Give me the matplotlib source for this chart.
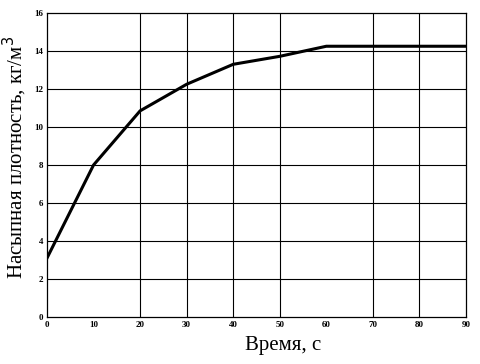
#!/usr/bin/env python3
"""
Bulk density vs time curve (recreated chart).
"""
import matplotlib
matplotlib.use('Agg')
import matplotlib.pyplot as plt

# Data
time_s = [0, 10, 20, 30, 40, 50, 60, 90]
density = [3.1, 8.0, 10.85, 12.25, 13.3, 13.72, 14.25, 14.25]

x_ticks = [0, 10, 20, 30, 40, 50, 60, 70, 80, 90]
y_ticks = [0, 2, 4, 6, 8, 10, 12, 14, 16]
# vertical grid lines that actually show in the reference
x_grid = [20, 30, 40, 50, 70, 80]

plt.rcParams['font.family'] = ['Liberation Serif', 'DejaVu Serif']

fig = plt.figure(figsize=(4.8, 3.64), dpi=100)
ax = fig.add_axes([47 / 480, 1 - 317 / 364, (466 - 47) / 480, (317 - 13) / 364])

ax.plot(time_s, density, color='black', lw=2.2, solid_joinstyle='miter')

ax.set_xlim(0, 90)
ax.set_ylim(0, 16)
ax.set_xticks(x_ticks)
ax.set_yticks(y_ticks)
ax.tick_params(length=0, labelsize=6.5, pad=3)
for lbl in ax.get_xticklabels() + ax.get_yticklabels():
    lbl.set_fontweight('bold')

# grid
for yv in y_ticks[1:-1]:
    ax.axhline(yv, color='black', lw=0.8, zorder=0)
for xv in x_grid:
    ax.axvline(xv, color='black', lw=0.8, zorder=0)

for s in ax.spines.values():
    s.set_linewidth(0.9)

ax.set_xlabel('Время, с', fontsize=15)
ax.set_ylabel('Насыпная плотность, кг/м$^3$', fontsize=15)
ax.xaxis.set_label_coords(0.563, -0.062)
ax.yaxis.set_label_coords(-0.044, 0.525)

fig.savefig('out.png', dpi=100)
